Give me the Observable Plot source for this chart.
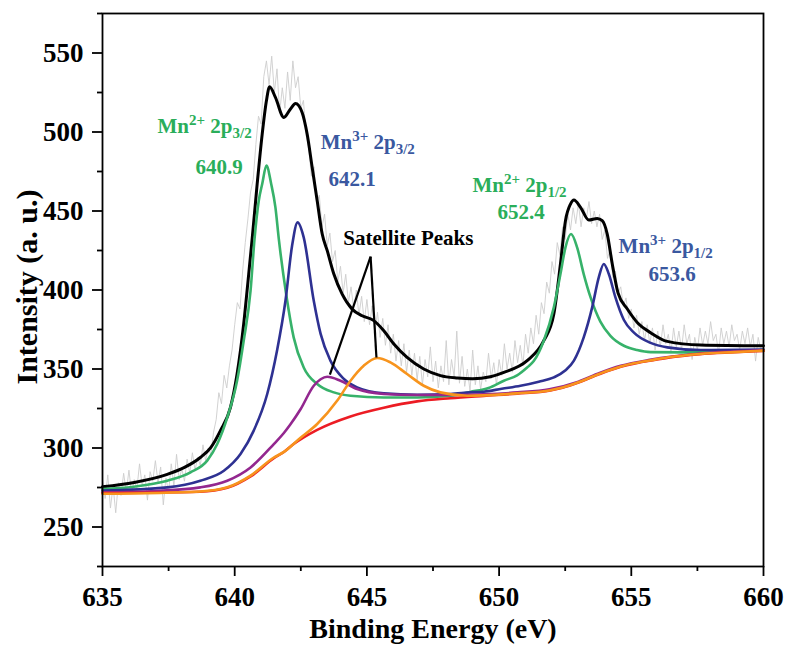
<!DOCTYPE html>
<html><head><meta charset="utf-8">
<script src="https://cdn.jsdelivr.net/npm/d3@7"></script>
<script src="https://cdn.jsdelivr.net/npm/@observablehq/plot@0.6"></script>
<style>body{margin:0;background:#fff}#chart{width:793px;height:645px;overflow:hidden}</style>
</head><body><div id="chart"></div>
<script>
// ---- data ----
const xTicks = [635, 640, 645, 650, 655, 660];
const xMinor = [637.5, 642.5, 647.5, 652.5, 657.5];
const yTicks = [250, 300, 350, 400, 450, 500, 550];
const yMinor = [225, 275, 325, 375, 425, 475, 525, 575];

// raw spectrum: energy grid 635.0 .. 660.0 every 0.1 eV
const rawStart = 635.0, rawStep = 0.1;
const rawCounts = [
280,268,283,262,276,259,278,270,284,272,
286,271,280,274,290,276,283,267,285,279,
292,278,288,264,281,272,290,276,296,280,
287,279,293,284,297,286,294,289,302,292,
300,296,310,318,335,328,346,338,352,362,
378,392,388,412,430,445,462,470,492,510,
505,535,545,530,548,525,540,512,528,515,
538,520,545,528,535,515,520,498,490,472,
478,455,460,440,448,428,436,418,425,405,
415,398,410,392,402,388,400,384,396,380,
394,378,390,372,386,370,382,365,378,360,
372,355,368,352,366,348,362,346,360,343,
358,340,356,345,364,342,355,338,352,342,
368,340,356,345,374,341,358,339,350,336,
362,340,352,337,348,342,360,344,354,340,
356,346,366,350,360,348,368,354,365,352,
372,360,376,366,384,372,392,385,405,398,
418,410,430,422,440,432,448,438,452,442,
455,440,452,445,456,442,450,440,448,432,
438,420,426,408,412,398,402,390,395,382,
388,376,384,372,380,368,378,366,376,362,
374,364,378,366,372,360,376,364,374,362,
378,366,372,356,370,362,376,365,374,366,
380,368,372,360,376,366,374,364,378,368,
372,362,374,366,376,364,372,355,370,362,
366];

// fitted envelope and components: [binding energy, intensity]
const envelope = [
[635.0,275.5],[636.2,278.2],[637.45,283.3],[638.1,287.7],[638.7,294.0],[639.1,300.4],[639.46,311.0],
[639.84,325.7],[640.09,346.8],[640.34,378.5],[640.53,410.1],[640.66,432.3],[640.85,467.1],[641.04,498.7],
[641.2,519.8],[641.32,528.7],[641.54,521.9],[641.86,509.2],[642.11,514.6],[642.3,518.1],[642.55,512.4],
[642.74,498.7],[642.93,477.6],[643.12,456.5],[643.31,435.4],[643.5,424.9],[643.75,410.1],[644.06,397.5],
[644.44,387.9],[644.82,383.7],[645.26,380.6],[645.64,374.2],[646.02,365.8],[646.52,357.3],[647.15,350.0],
[647.78,345.8],[648.42,344.3],[649.0,343.8],[649.67,345.1],[650.18,347.9],[651.06,355.3],[651.69,367.9],
[652.07,384.8],[652.32,416.5],[652.51,443.9],[652.7,454.4],[652.83,457.0],[653.08,452.3],[653.39,444.3],
[653.71,445.3],[653.9,443.9],[654.09,435.4],[654.28,416.5],[654.5,398.0],[654.85,388.0],[655.25,379.0],
[655.73,373.0],[656.36,367.5],[657.62,365.2],[660.0,364.7]];

const mn2 = [
[635.0,274.0],[636.18,275.5],[637.45,279.3],[638.33,284.6],[638.96,292.0],[639.34,302.5],[639.72,319.4],
[640.09,342.6],[640.34,367.9],[640.6,399.6],[640.75,432.3],[640.91,456.5],[641.04,467.1],[641.2,478.7],
[641.38,467.1],[641.54,452.3],[641.67,432.0],[641.95,397.0],[642.23,370.0],[642.61,351.0],[643.12,340.5],
[643.75,335.2],[644.38,333.1],[645.64,332.0],[646.9,332.0],[648.16,333.1],[648.9,335.5],[649.6,338.0],
[650.18,342.6],[650.68,346.0],[651.06,351.0],[651.31,355.0],[651.69,367.9],[652.07,389.0],[652.32,410.1],
[652.51,427.0],[652.72,435.4],[652.95,427.0],[653.2,410.1],[653.46,395.3],[653.83,380.0],[654.21,371.0],
[654.72,364.7],[655.22,362.0],[655.73,360.7],[657.0,360.5],[658.5,361.0],[660.0,362.0]];

const mn3 = [
[635.0,273.0],[637.45,275.1],[638.7,279.3],[639.59,285.6],[640.22,296.2],[640.72,311.0],[641.23,334.2],
[641.6,361.6],[641.92,393.2],[642.17,428.0],[642.38,442.8],[642.61,433.3],[642.99,393.2],[643.25,372.2],
[643.62,355.3],[644.13,343.7],[644.63,338.4],[645.64,334.6],[646.9,333.7],[648.16,334.2],[648.92,335.2],
[649.42,335.6],[650.1,337.5],[650.81,339.4],[651.5,342.0],[652.07,344.7],[652.5,349.0],[652.83,355.3],
[653.2,370.0],[653.52,389.0],[653.77,408.0],[653.96,416.5],[654.15,410.1],[654.4,395.3],[654.72,381.0],
[655.1,373.0],[655.73,366.5],[656.36,363.7],[657.62,362.0],[660.0,362.3]];

const sat1 = [
[635.0,271.9],[637.0,272.8],[638.7,275.1],[639.72,279.3],[640.6,287.7],[641.48,302.5],[641.86,309.5],
[642.11,315.0],[642.49,324.5],[642.99,339.4],[643.25,343.5],[643.5,345.1],[644.0,342.6],[644.63,337.3],
[645.64,334.2],[646.9,333.5],[648.16,333.5],[649.42,334.0],[650.7,335.2],[651.9,337.2],[653.0,342.0],
[653.8,347.5],[654.6,352.0],[655.7,355.8],[657.6,359.8],[660.0,361.8]];

const sat2 = [
[635.0,271.0],[638.7,272.5],[639.72,275.1],[640.6,282.5],[641.48,294.0],[641.86,297.5],[642.49,306.5],
[643.12,315.2],[643.88,330.0],[644.38,342.6],[644.88,352.1],[645.39,357.0],[645.89,354.2],[646.52,346.8],
[647.15,339.4],[647.78,335.2],[648.79,333.1],[649.42,333.3],[650.68,334.6],[651.94,336.6],[652.4,338.3],
[653.0,341.6],[653.8,347.0],[654.6,351.6],[655.1,353.6],[655.7,355.4],[656.4,357.4],[657.6,359.5],
[658.9,360.7],[660.0,361.6]];

const background = [
[635.0,271.5],[638.7,272.3],[639.72,274.8],[640.6,282.0],[641.48,293.5],[641.86,297.5],[642.23,302.5],
[643.12,311.5],[644.38,320.0],[645.64,325.5],[646.9,329.5],[648.16,331.5],[649.42,333.0],[650.68,334.4],
[651.94,336.4],[652.4,338.1],[653.0,341.4],[653.8,346.8],[654.6,351.4],[655.1,353.4],[655.7,355.2],
[656.4,357.2],[657.6,359.4],[658.9,360.6],[660.0,361.5]];

// annotations (anchor in data units: left edge, baseline)
const greenLabels = [
  {x: 637.08, y: 499.6, base: "Mn", sup: "2+", mid: " 2p", sub: "3/2"},
  {x: 638.52, y: 473.6, base: "640.9"},
  {x: 648.99, y: 462.2, base: "Mn", sup: "2+", mid: " 2p", sub: "1/2"},
  {x: 649.94, y: 445.1, base: "652.4"}
];
const blueLabels = [
  {x: 643.25, y: 489.4, base: "Mn", sup: "3+", mid: " 2p", sub: "3/2"},
  {x: 643.55, y: 466.0, base: "642.1"},
  {x: 654.52, y: 423.6, base: "Mn", sup: "3+", mid: " 2p", sub: "1/2"},
  {x: 655.65, y: 405.9, base: "653.6"}
];
const satLabel = [{x: 644.11, y: 428.7, base: "Satellite Peaks"}];
const satPointers = [
  {x1: 645.14, y1: 421.1, x2: 643.6, y2: 346.4},
  {x1: 645.14, y1: 421.1, x2: 645.36, y2: 357.3}
];

// ---- drawing ----
const raw = rawCounts.map((v, i) => ({e: +(rawStart + i * rawStep).toFixed(1), v}));
const FONT = "'Liberation Serif','Times New Roman',serif";
const GREEN_TXT = "#2aae5a", BLUE_TXT = "#3a58a0";
const full = d => (d.base || "") + (d.sup || "") + (d.mid || "") + (d.sub || "");
const fitLine = (data, color, w) => Plot.line(data, {x: d => d[0], y: d => d[1], stroke: color, strokeWidth: w, curve: "monotone-x"});

const chart = Plot.plot({
  width: 793, height: 645,
  marginLeft: 102, marginRight: 30, marginTop: 13, marginBottom: 79,
  x: {domain: [635, 660], axis: null},
  y: {domain: [225, 575], axis: null},
  style: {fontFamily: FONT, background: "white", color: "black", overflow: "visible"},
  marks: [
    Plot.line(raw, {x: "e", y: "v", stroke: "#cdcdcd", strokeWidth: 0.9}),
    fitLine(envelope, "#000000", 3),
    fitLine(mn2, "#37b26a", 2.6),
    fitLine(mn3, "#2e3192", 2.6),
    fitLine(sat1, "#93278f", 2.6),
    fitLine(background, "#ec1c24", 2.6),
    fitLine(sat2, "#f7941d", 2.6),
    Plot.link(satPointers, {x1: "x1", y1: "y1", x2: "x2", y2: "y2", stroke: "black", strokeWidth: 2.2}),
    Plot.text(greenLabels, {x: "x", y: "y", text: full, fill: GREEN_TXT, textAnchor: "start", lineAnchor: "bottom", fontSize: 21, fontWeight: "bold"}),
    Plot.text(blueLabels, {x: "x", y: "y", text: full, fill: BLUE_TXT, textAnchor: "start", lineAnchor: "bottom", fontSize: 21, fontWeight: "bold"}),
    Plot.text(satLabel, {x: "x", y: "y", text: full, fill: "black", textAnchor: "start", lineAnchor: "bottom", fontSize: 21, fontWeight: "bold"}),
    Plot.frame({stroke: "black", strokeWidth: 1.8}),
    Plot.axisX({ticks: xTicks, tickSize: 10, tickPadding: 10, strokeWidth: 1.8, fontSize: 27, fontWeight: "bold", label: null, tickFormat: d3.format("d")}),
    Plot.axisX({ticks: xMinor, tickSize: 5, strokeWidth: 1.8, label: null, tickFormat: () => ""}),
    Plot.axisY({ticks: yTicks, tickSize: 10, tickPadding: 9, strokeWidth: 1.8, fontSize: 27, fontWeight: "bold", label: null, tickFormat: d3.format("d")}),
    Plot.axisY({ticks: yMinor, tickSize: 5, strokeWidth: 1.8, label: null, tickFormat: () => ""}),
    Plot.text(["Binding Energy (eV)"], {frameAnchor: "bottom", dy: 71, lineAnchor: "bottom", fontSize: 28, fontWeight: "bold"}),
    Plot.text(["Intensity (a. u.)"], {frameAnchor: "left", rotate: -90, dx: -75, dy: -3, textAnchor: "middle", lineAnchor: "middle", fontSize: 30, fontWeight: "bold"})
  ]
});
document.getElementById("chart").appendChild(chart);

// rich text: superscripts and subscripts for the peak labels
const NS = "http://www.w3.org/2000/svg";
const allLabels = [...greenLabels, ...blueLabels];
chart.querySelectorAll("text").forEach(t => {
  const d = allLabels.find(l => l.sup && full(l) === t.textContent);
  if (!d) return;
  t.textContent = "";
  const add = (str, attrs) => {
    const s = document.createElementNS(NS, "tspan");
    s.textContent = str;
    for (const k in attrs) s.setAttribute(k, attrs[k]);
    t.appendChild(s);
  };
  add(d.base, {});
  add(d.sup, {"font-size": 15, dy: -8});
  add(d.mid, {dy: 8});
  add(d.sub, {"font-size": 15, dy: 5});
});
</script>
</body></html>
